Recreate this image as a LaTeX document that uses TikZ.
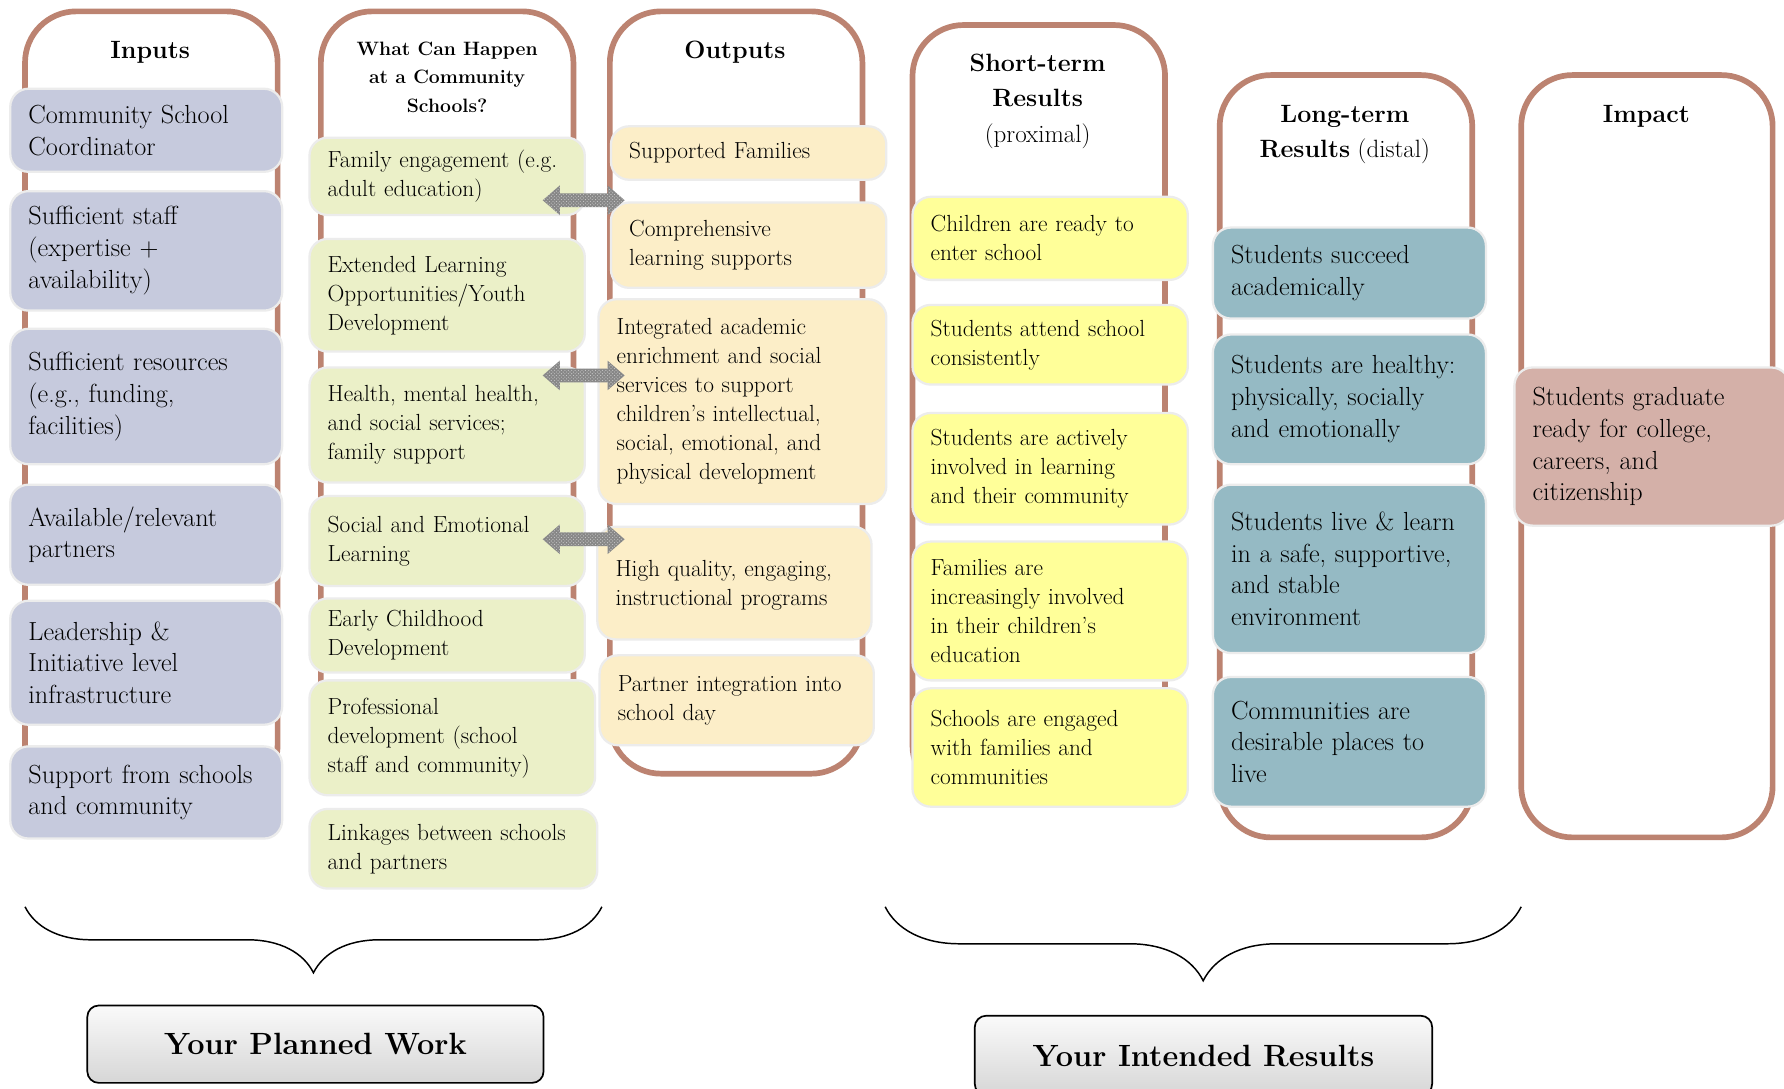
\documentclass[tikz,border=0pt]{standalone}
\usepackage{xcolor}
\usepackage{tikz}
\usetikzlibrary{positioning, decorations.pathreplacing, patterns}
\definecolor{FrameBrown}{RGB}{188,131,113}
\definecolor{InputLav}{RGB}{198,202,221}
\definecolor{HappenGreen}{RGB}{235,240,200}
\definecolor{OutputCream}{RGB}{252,238,200}
\definecolor{ShortYellow}{RGB}{255,255,153}
\definecolor{LongTeal}{RGB}{149,186,196}
\definecolor{ImpactRose}{RGB}{212,176,168}
\definecolor{BoxEdge}{RGB}{236,236,236}
\definecolor{ArrowGray}{RGB}{135,135,135}
\tikzset{
  colframe/.style={draw=FrameBrown, line width=5pt, rounded corners=45pt},
  coltitle/.style={align=center, font=\fontsize{22}{31}\selectfont},
  itembox/.style={draw=BoxEdge, line width=2pt, rounded corners=16pt, anchor=north west,
    align=left, inner xsep=16pt, inner ysep=4pt, text=black},
  bigtxt/.style={itembox, font=\fontsize{23}{28}\selectfont},
  smalltxt/.style={itembox, font=\fontsize{20.5}{25.5}\selectfont},
  inbox/.style={bigtxt, fill=InputLav, text width=207pt},
  hapbox/.style={smalltxt, fill=HappenGreen},
  outbox/.style={smalltxt, fill=OutputCream},
  stbox/.style={smalltxt, fill=ShortYellow, text width=210pt},
  ltbox/.style={bigtxt, fill=LongTeal, text width=208pt},
  impbox/.style={bigtxt, fill=ImpactRose, text width=210pt},
  linkarrow/.style={fill=ArrowGray, postaction={pattern=crosshatch dots, pattern color=gray!40}},
  dblarrow/.pic={\path[linkarrow] (-36,0) -- (-21,-13) -- (-21,-6) -- (21,-6) -- (21,-13) -- (36,0)
    -- (21,13) -- (21,6) -- (-21,6) -- (-21,13) -- cycle;},
  groupbrace/.style={decorate, decoration={brace, mirror, amplitude=#1}, line width=1.3pt},
  resultbtn/.style={draw=black, line width=1.5pt, rounded corners=10pt, top color=gray!4,
    bottom color=gray!32, anchor=north west, font=\fontsize{27}{32}\selectfont\bfseries},
}

\begin{document}
\begin{tikzpicture}[x=1pt, y=-1pt]
  \useasboundingbox[fill=white] (0,0) rectangle (1568,957);

  % column frames
  \draw[colframe] (22,10) rectangle (244,700);
  \draw[colframe] (282,10) rectangle (504,690);
  \draw[colframe] (536,10) rectangle (758,680);
  \draw[colframe] (802,22) rectangle (1024,700);
  \draw[colframe] (1072,66) rectangle (1294,736);
  \draw[colframe] (1337,66) rectangle (1558,736);

  % titles
  \node[coltitle] (tIn) at (132,46) {\textbf{Inputs}};
  \node[coltitle, font=\fontsize{17}{25}\selectfont] (tHap) at (393,68) {\textbf{What Can Happen}\\\textbf{at a Community}\\\textbf{Schools?}};
  \node[coltitle] (tOut) at (646,46) {\textbf{Outputs}};
  \node[coltitle] (tShort) at (912,89) {\textbf{Short-term}\\\textbf{Results}\\(proximal)};
  \node[coltitle] (tLong) at (1182,118) {\textbf{Long-term}\\\textbf{Results} (distal)};
  \node[coltitle] (tImp) at (1447,102) {\textbf{Impact}};

  % inputs
  \node[inbox, minimum height=73pt] (in1) at (8,77) {Community School\\Coordinator};
  \node[inbox, minimum height=105pt] (in2) at (8,167) {Sufficient staff\\(expertise +\\availability)};
  \node[inbox, minimum height=119pt] (in3) at (8,288) {Sufficient resources\\(e.g., funding,\\facilities)};
  \node[inbox, minimum height=88pt] (in4) at (8,425) {Available/relevant\\partners};
  \node[inbox, minimum height=109pt] (in5) at (8,527) {Leadership \&\\Initiative level\\infrastructure};
  \node[inbox, minimum height=81pt] (in6) at (8,655) {Support from schools\\and community};

  % what can happen
  \node[hapbox, text width=210pt, minimum height=68pt] (hap1) at (271,120) {Family engagement (e.g.\\adult education)};
  \node[hapbox, text width=210pt, minimum height=99pt] (hap2) at (271,209) {Extended Learning\\Opportunities/Youth\\Development};
  \node[hapbox, text width=210pt, minimum height=101pt] (hap3) at (271,322) {Health, mental health,\\and social services;\\family support};
  \node[hapbox, text width=210pt, minimum height=79pt] (hap4) at (271,435) {Social and Emotional\\Learning};
  \node[hapbox, text width=210pt, minimum height=65pt] (hap5) at (271,525) {Early Childhood\\Development};
  \node[hapbox, text width=219pt, minimum height=101pt] (hap6) at (271,597) {Professional\\development (school\\staff and community)};
  \node[hapbox, text width=221pt, minimum height=70pt] (hap7) at (271,710) {Linkages between schools\\and partners};

  % outputs
  \node[outbox, text width=210pt, minimum height=47pt] (out1) at (536,110) {Supported Families};
  \node[outbox, text width=210pt, minimum height=75pt] (out2) at (536,177) {Comprehensive\\learning supports};
  \node[outbox, text width=221pt, minimum height=180pt] (out3) at (525,262) {Integrated academic\\enrichment and social\\services to support\\children's intellectual,\\social, emotional, and\\physical development};
  \node[outbox, text width=209pt, minimum height=99pt, text depth=26pt] (out4) at (524,462) {High quality, engaging,\\instructional programs};
  \node[outbox, text width=209pt, minimum height=79pt] (out5) at (526,575) {Partner integration into\\school day};

  % short-term results
  \node[stbox, minimum height=73pt] (st1) at (801,172) {Children are ready to\\enter school};
  \node[stbox, minimum height=70pt] (st2) at (801,267) {Students attend school\\consistently};
  \node[stbox, minimum height=98pt] (st3) at (801,362) {Students are actively\\involved in learning\\and their community};
  \node[stbox, minimum height=122pt] (st4) at (801,475) {Families are\\increasingly involved\\in their children's\\education};
  \node[stbox, minimum height=104pt] (st5) at (801,604) {Schools are engaged\\with families and\\communities};

  % long-term results
  \node[ltbox, minimum height=80pt] (lt1) at (1065,199) {Students succeed\\academically};
  \node[ltbox, minimum height=114pt] (lt2) at (1065,293) {Students are healthy:\\physically, socially\\and emotionally};
  \node[ltbox, minimum height=148pt] (lt3) at (1065,425) {Students live \& learn\\in a safe, supportive,\\and stable\\environment};
  \node[ltbox, minimum height=114pt] (lt4) at (1065,594) {Communities are\\desirable places to\\live};

  % impact
  \node[impbox, minimum height=139pt] (imp1) at (1330,322) {Students graduate\\ready for college,\\careers, and\\citizenship};

  % links between activities and outputs
  \pic (arA) at (513,176) {dblarrow};
  \pic (arB) at (513,330) {dblarrow};
  \pic (arC) at (513,474) {dblarrow};

  % braces and summary buttons
  \draw[groupbrace=58pt] (22,797) -- (529,797);
  \draw[groupbrace=65pt] (778,797) -- (1337,797);
  \node[resultbtn, minimum width=401pt, minimum height=68pt] (work) at (76,883) {Your Planned Work};
  \node[resultbtn, minimum width=402pt, minimum height=70pt] (results) at (856,892) {Your Intended Results};
\end{tikzpicture}
\end{document}
